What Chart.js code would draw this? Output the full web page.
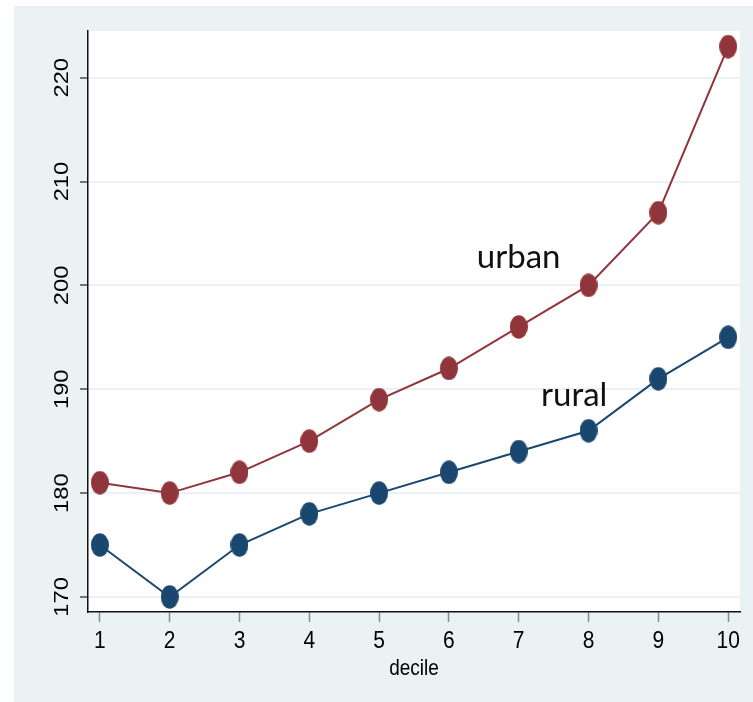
<!DOCTYPE html>
<html>
<head>
<meta charset="utf-8">
<script src="https://cdn.jsdelivr.net/npm/chart.js@4/dist/chart.umd.min.js"></script>
<style>
html,body{margin:0;padding:0;background:#fff;}
#wrap{width:753px;height:702px;position:relative;}
</style>
</head>
<body>
<div id="wrap"><canvas id="c" width="753" height="702"></canvas></div>
<script>
const deciles = [1,2,3,4,5,6,7,8,9,10];
const urban = [181,180,182,185,189,192,196,200,207,223];
const rural = [175,170,175,178,180,182,184,186,191,195];
const yTicks = [170,180,190,200,210,220];
const xTitle = 'decile';
const seriesNames = ['urban','rural'];

const BG = '#eaf2f3';
const MAROON = '#90353b';
const NAVY = '#1a476f';

function ellipseMarker(color){
  const c = document.createElement('canvas');
  c.width = 18; c.height = 24;
  const g = c.getContext('2d');
  g.fillStyle = color;
  g.beginPath();
  g.ellipse(9, 12, 9, 11.7, 0, 0, Math.PI*2);
  g.fill();
  return c;
}

const bgPlugin = {
  id:'bg',
  beforeDraw(chart){
    const ctx = chart.ctx, a = chart.chartArea;
    ctx.save();
    ctx.fillStyle = '#ffffff';
    ctx.fillRect(0,0,chart.width,chart.height);
    ctx.fillStyle = BG;
    ctx.fillRect(14,6,chart.width-14,chart.height-6);
    ctx.fillStyle = '#ffffff';
    ctx.fillRect(a.left,a.top,a.right-a.left,a.bottom-a.top);
    ctx.restore();
  }
};

const textPlugin = {
  id:'texts',
  afterDraw(chart){
    const ctx = chart.ctx, xs = chart.scales.x, ys = chart.scales.y;
    const SY = 1.13;
    ctx.save();
    ctx.fillStyle = '#000';
    ctx.font = '21px "Liberation Sans", Arial, sans-serif';
    ctx.textAlign = 'center';
    ctx.textBaseline = 'middle';
    deciles.forEach(v=>{
      ctx.save();
      ctx.translate(xs.getPixelForValue(v), 641);
      ctx.scale(1,SY);
      ctx.fillText(String(v),0,0);
      ctx.restore();
    });
    yTicks.forEach(v=>{
      ctx.save();
      ctx.translate(62, ys.getPixelForValue(v));
      ctx.scale(1,SY);
      ctx.rotate(-Math.PI/2);
      ctx.fillText(String(v),0,0);
      ctx.restore();
    });
    ctx.save();
    ctx.font = '19px "Liberation Sans", Arial, sans-serif';
    ctx.textBaseline = 'alphabetic';
    ctx.translate((xs.left+xs.right)/2, 675);
    ctx.scale(1,SY);
    ctx.fillText(xTitle,0,0);
    ctx.restore();

    ctx.font = '33px Lato, "Open Sans", sans-serif';
    ctx.textAlign = 'left';
    ctx.textBaseline = 'alphabetic';
    ctx.fillStyle = '#111';
    ctx.fillText(seriesNames[0], xs.getPixelForValue(6.40), ys.getPixelForValue(201.7));
    ctx.fillText(seriesNames[1], xs.getPixelForValue(7.32), ys.getPixelForValue(188.4));
    ctx.restore();
  }
};

new Chart(document.getElementById('c'), {
  type:'line',
  data:{
    datasets:[
      {label:seriesNames[0], data:deciles.map((d,i)=>({x:d,y:urban[i]})),
       borderColor:MAROON, borderWidth:2, pointStyle:ellipseMarker(MAROON), pointRadius:10, tension:0},
      {label:seriesNames[1], data:deciles.map((d,i)=>({x:d,y:rural[i]})),
       borderColor:NAVY, borderWidth:2, pointStyle:ellipseMarker(NAVY), pointRadius:10, tension:0}
    ]
  },
  options:{
    responsive:false,
    animation:false,
    events:[],
    layout:{padding:{left:14,top:31,right:13,bottom:0}},
    plugins:{legend:{display:false},tooltip:{enabled:false}},
    scales:{
      x:{
        type:'linear', min:0.83, max:10.17,
        afterBuildTicks(s){ s.ticks = deciles.map(v=>({value:v})); },
        afterFit(s){ s.height = 90; },
        ticks:{display:false},
        grid:{drawOnChartArea:false, drawTicks:true, tickLength:10, tickColor:'#8a8a8a', tickWidth:1.5},
        border:{display:true, color:'#111', width:1.5}
      },
      y:{
        type:'linear', min:168.55, max:224.5,
        afterBuildTicks(s){ s.ticks = yTicks.map(v=>({value:v})); },
        afterFit(s){ s.width = 74; },
        ticks:{display:false},
        grid:{color:BG, lineWidth:2, drawTicks:true, tickLength:8, tickColor:'#222', tickWidth:1.2},
        border:{display:true, color:'#111', width:1.5}
      }
    }
  },
  plugins:[bgPlugin,textPlugin]
});
</script>
</body>
</html>
